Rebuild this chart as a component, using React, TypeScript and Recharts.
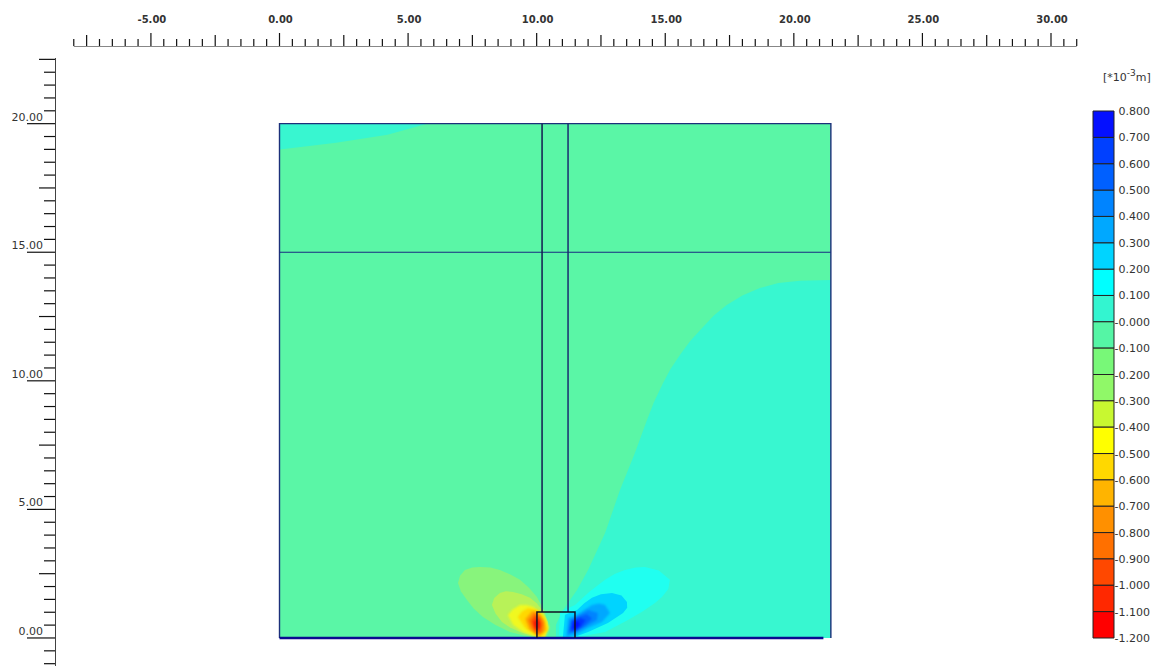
import React from "react";
import { ScatterChart, Scatter, XAxis, YAxis, BarChart, Bar } from "recharts";

type Pt = [number, number];

// ruler labels and model geometry, in metres
const xTicks = Array.from({ length: 79 }, (_, i) => -8 + i * 0.5);
const yTicks = Array.from({ length: 48 }, (_, i) => -1 + i * 0.5);
const modelBox: Pt[] = [[0, 0], [21.44, 0], [21.44, 20], [0, 20]];
const frameLine: Pt[] = [[0, 0], [0, 20], [21.44, 20], [21.44, 0]];
const crossLine: Pt[] = [[0, 15], [21.44, 15]];
const columnLeft: Pt[] = [[10.21, 1.01], [10.21, 20]];
const columnRight: Pt[] = [[11.22, 1.01], [11.22, 20]];
const footing: Pt[] = [[10.01, 0], [10.01, 1.01], [11.49, 1.01], [11.49, 0]];
const baseLine: Pt[] = [[0, 0], [21.15, 0]];

// contour regions
const topLeftPatch: Pt[] = [[0, 20], [5.74, 20], [4.2, 19.57], [2.2, 19.26], [0.5, 19.05], [0, 19.0]];
const rightRegion: Pt[] = [
  [21.44, 13.92], [20.24, 13.89], [19.4, 13.8], [18.68, 13.61], [18, 13.32], [17.39, 12.95], [16.9, 12.55], [16.47, 12.09],
  [15.97, 11.55], [15.57, 11.0], [15.2, 10.45], [14.91, 9.91], [14.55, 9.15], [14.29, 8.48], [13.82, 7.19], [13.24, 5.75], [12.66, 4.08], [12.0, 2.64],
  [11.57, 1.87], [11.22, 1.36], [10.98, 1.01], [10.75, 0.51], [10.75, 0], [21.44, 0],
];

const leftBlobs: { color: string; pts: Pt[] }[] = [
  { color: "#88f47c", pts: [[6.94, 2.14], [7.02, 2.42], [7.21, 2.64], [7.5, 2.74], [7.8, 2.76], [8.2, 2.74], [8.57, 2.64], [9.0, 2.46], [9.35, 2.26], [9.7, 1.95], [10.01, 1.59], [10.32, 1.01], [10.44, 0.51], [10.13, 0], [9.5, 0.1], [8.96, 0.23], [8.4, 0.5], [7.91, 0.82], [7.55, 1.15], [7.29, 1.48], [7.05, 1.82]] },
  { color: "#b8f258", pts: [[8.26, 1.28], [8.35, 1.55], [8.57, 1.75], [8.8, 1.82], [9.08, 1.79], [9.42, 1.7], [9.74, 1.56], [10.0, 1.35], [10.21, 1.09], [10.44, 0.62], [10.32, 0], [9.8, 0.1], [9.35, 0.23], [8.95, 0.42], [8.65, 0.62], [8.4, 0.95]] },
  { color: "#f0f820", pts: [[8.88, 0.89], [9.08, 1.12], [9.35, 1.28], [9.6, 1.28], [9.86, 1.21], [10.25, 0.89], [10.48, 0.43], [10.32, 0], [9.85, 0.1], [9.47, 0.23], [9.08, 0.51]] },
  { color: "#ffd800", pts: [[9.27, 0.82], [9.42, 1.02], [9.66, 1.17], [10.05, 1.09], [10.32, 0.78], [10.44, 0.31], [10.13, 0], [9.85, 0.18], [9.55, 0.39]] },
  { color: "#ffa800", pts: [[9.55, 0.74], [9.82, 1.05], [10.05, 1.0], [10.28, 0.7], [10.36, 0.31], [10.1, 0.08], [9.7, 0.35]] },
  { color: "#ff7c00", pts: [[9.66, 0.7], [9.9, 0.98], [10.1, 0.9], [10.28, 0.6], [10.25, 0.25], [10.02, 0.12], [9.78, 0.4]] },
  { color: "#ff4800", pts: [[9.78, 0.66], [9.95, 0.88], [10.12, 0.78], [10.2, 0.5], [10.12, 0.22], [9.92, 0.3]] },
  { color: "#f01408", pts: [[9.88, 0.6], [10.02, 0.76], [10.12, 0.6], [10.1, 0.36], [9.95, 0.38]] },
];

const rightBlobs: { color: string; pts: Pt[] }[] = [
  { color: "#20fff0", pts: [[10.87, 0.1], [10.91, 1.01], [11.49, 1.28], [12.05, 1.8], [12.66, 2.26], [13.05, 2.5], [13.43, 2.64], [13.85, 2.74], [14.21, 2.76], [14.75, 2.62], [15.18, 2.26], [15.12, 1.9], [14.87, 1.59], [14.6, 1.36], [14.1, 1.02], [13.55, 0.7], [12.66, 0.23], [11.61, 0.04]] },
  { color: "#00d4ff", pts: [[11.02, 0.04], [11.1, 0.9], [11.57, 1.09], [11.85, 1.35], [12.15, 1.56], [12.5, 1.7], [12.93, 1.75], [13.3, 1.65], [13.51, 1.4], [13.52, 1.18], [13.36, 0.97], [12.77, 0.58], [12.0, 0.23], [11.57, 0.08]] },
  { color: "#00a8ff", pts: [[11.14, 0.04], [11.22, 0.78], [11.53, 0.89], [12.15, 1.28], [12.42, 1.34], [12.66, 1.28], [12.85, 0.97], [12.54, 0.62], [12.0, 0.39], [11.53, 0.12]] },
  { color: "#0084ff", pts: [[11.22, 0.16], [11.3, 0.7], [11.53, 0.82], [12.0, 1.09], [12.38, 0.97], [12.34, 0.7], [11.88, 0.43], [11.53, 0.23]] },
  { color: "#0060ff", pts: [[11.28, 0.22], [11.35, 0.68], [11.6, 0.82], [11.95, 0.92], [12.15, 0.76], [11.9, 0.5], [11.55, 0.28]] },
  { color: "#0038ff", pts: [[11.33, 0.3], [11.4, 0.66], [11.68, 0.78], [11.9, 0.7], [11.72, 0.45], [11.5, 0.3]] },
  { color: "#0410ff", pts: [[11.4, 0.36], [11.45, 0.62], [11.62, 0.66], [11.68, 0.5], [11.52, 0.36]] },
];

// colour scale, ordered outwards from zero
const posBands = ["#33f5d0", "#00ffff", "#00d4ff", "#00a8ff", "#0084ff", "#0060ff", "#0040ff", "#0410ff"];
const negBands = ["#55f5a5", "#78f878", "#90f868", "#c8f830", "#ffff00", "#ffd800", "#ffb400", "#ff9000", "#ff7000", "#ff4800", "#ff2800", "#ff0000"];
const scaleTicks = Array.from({ length: 21 }, (_, i) => Math.round((0.8 - i * 0.1) * 10) / 10);
const scaleRow: Record<string, number | string> = { name: "scale" };
posBands.forEach((_, i) => { scaleRow["p" + i] = 0.1; });
negBands.forEach((_, i) => { scaleRow["n" + i] = -0.1; });

const FIELD = "#5af6a6";
const noDot = () => null;
const toPoints = (pts: Pt[]) => pts.map(([x, y]) => ({ x, y }));

const fillRegion = (key: string, pts: Pt[], color: string, blur = 0) => (
  <Scatter
    key={key}
    data={toPoints(pts)}
    shape={noDot}
    line={{ fill: color, stroke: "none", style: blur ? { filter: `blur(${blur}px)` } : undefined } as any}
    lineJointType="linearClosed"
    isAnimationActive={false}
  />
);

const strokeLine = (key: string, pts: Pt[], color: string, width: number) => (
  <Scatter
    key={key}
    data={toPoints(pts)}
    shape={noDot}
    line={{ stroke: color, strokeWidth: width, fill: "none" } as any}
    lineJointType="linear"
    isAnimationActive={false}
  />
);

const XTick = ({ x, y, payload }: any) => {
  const v: number = payload.value;
  const major = v % 5 === 0;
  const mid = v % 2.5 === 0;
  const len = major ? 13 : mid ? 11 : 7;
  return (
    <g>
      <line x1={x} x2={x} y1={y} y2={y - len} stroke="#111" strokeWidth={1.2} />
      {major && (
        <text x={x + 1} y={y - 23} textAnchor="middle" fontSize={10} fontWeight="bold" fontFamily="DejaVu Sans" fill="#333">
          {v.toFixed(2)}
        </text>
      )}
    </g>
  );
};

const YTick = ({ x, y, payload }: any) => {
  const v: number = payload.value;
  const major = v % 5 === 0;
  const mid = v % 2.5 === 0;
  const len = major ? 28 : mid ? 16 : 11;
  return (
    <g>
      <line x1={x} x2={x - len} y1={y} y2={y} stroke="#111" strokeWidth={1.2} />
      {major && (
        <text x={x - 12} y={y - 3} textAnchor="end" fontSize={11} fontFamily="DejaVu Sans" fill="#333">
          {v.toFixed(2)}
        </text>
      )}
    </g>
  );
};

const ScaleTick = ({ x, y, payload }: any) => (
  <text x={x + 36} y={y + 4} textAnchor="end" fontSize={11} fontFamily="DejaVu Sans" fill="#333">
    {payload.value === 0 ? "-0.000" : payload.value.toFixed(3)}
  </text>
);

export default function App() {
  return (
    <div style={{ position: "absolute", left: 0, top: 0, width: 1161, height: 666, background: "#fff", overflow: "hidden" }}>
      <ScatterChart width={1161} height={666} margin={{ top: 16, left: 15, right: 83, bottom: 0 }}>
        <XAxis
          type="number"
          dataKey="x"
          orientation="top"
          height={30}
          domain={[-8.73, 31.05]}
          ticks={xTicks}
          interval={0}
          tick={<XTick />}
          tickLine={false}
          axisLine={false}
          tickSize={0}
          tickMargin={0}
          allowDataOverflow
        />
        <YAxis
          type="number"
          dataKey="y"
          width={40}
          domain={[-1.09, 23.02]}
          ticks={yTicks}
          interval={0}
          tick={<YTick />}
          tickLine={false}
          axisLine={false}
          tickSize={0}
          tickMargin={0}
          allowDataOverflow
        />
        {strokeLine("xruler", [[-8, 23.02], [31, 23.02]], "#111", 1.2)}
        {strokeLine("yruler", [[-8.73, -1.09], [-8.73, 22.55]], "#111", 1.6)}
        {fillRegion("field", modelBox, FIELD)}
        {fillRegion("topleft", topLeftPatch, "#38f6d0")}
        {fillRegion("right", rightRegion, "#38f7d0")}
        {leftBlobs.map((b, i) => fillRegion("l" + i, b.pts, b.color, i > 1 ? 1.2 : 0.6))}
        {rightBlobs.map((b, i) => fillRegion("r" + i, b.pts, b.color, i > 1 ? 1.2 : 0.6))}
        {strokeLine("frame", frameLine, "#1c2f7a", 1.4)}
        {strokeLine("cross", crossLine, "#1a2a80", 1.2)}
        {strokeLine("coll", columnLeft, "#141a50", 1.5)}
        {strokeLine("colr", columnRight, "#1a2a70", 1.5)}
        {strokeLine("base", baseLine, "#0a0a90", 2.4)}
        {strokeLine("foot", footing, "#111122", 1.5)}
      </ScatterChart>

      <div style={{ position: "absolute", left: 1103, top: 72, fontSize: 11, lineHeight: "12px", fontFamily: "DejaVu Sans", color: "#333", whiteSpace: "nowrap" }}>
        [*10<sup style={{ fontSize: 9, lineHeight: 0 }}>-3</sup>m]
      </div>

      <div style={{ position: "absolute", left: 1083, top: 101 }}>
        <BarChart
          width={78}
          height={547}
          data={[scaleRow]}
          stackOffset="sign"
          barCategoryGap={0}
          margin={{ top: 10, bottom: 10, left: 10, right: 0 }}
        >
          <XAxis dataKey="name" hide />
          <YAxis
            orientation="right"
            width={47}
            domain={[-1.2, 0.8]}
            ticks={scaleTicks}
            interval={0}
            tick={<ScaleTick />}
            tickLine={false}
            axisLine={false}
            tickSize={0}
            tickMargin={0}
          />
          {posBands.map((c, i) => (
            <Bar key={"p" + i} dataKey={"p" + i} stackId="s" fill={c} stroke="#222" isAnimationActive={false} />
          ))}
          {negBands.map((c, i) => (
            <Bar key={"n" + i} dataKey={"n" + i} stackId="s" fill={c} stroke="#222" isAnimationActive={false} />
          ))}
        </BarChart>
      </div>
    </div>
  );
}
